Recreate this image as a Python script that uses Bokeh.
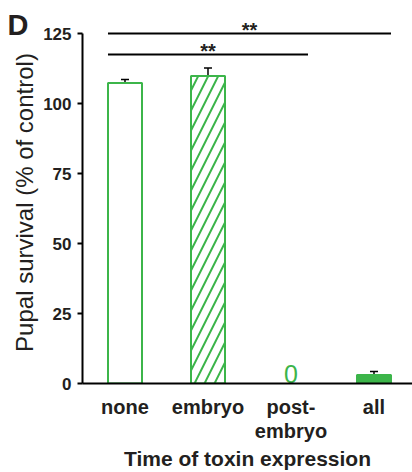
from bokeh.plotting import figure
from bokeh.models import ColumnDataSource, FixedTicker, LinearAxis, Whisker, TeeHead, Range1d
from bokeh.core.properties import value
from bokeh.embed import file_html
from bokeh.resources import INLINE

# ---- data ----
categories = ["none", "embryo", "post-\nembryo", "all"]
survival = [107.3, 109.8, 0.0, 3.0]
sem = [1.3, 2.9, 0.0, 1.3]
y_ticks = [0, 25, 50, 75, 100, 125]
sig_pairs = [(0, 3), (0, 2)]
sig_levels = [125, 117.5]
sig_text = ["**", "**"]
panel_letter = "D"

# ---- style ----
GREEN = "#3cb54a"
INK = "#231f20"
FONT = "Liberation Sans"
BAR_W = 0.41
LETTER_POS = 128
fill_styles = ["white", "white", "white", GREEN]
hatch_styles = [" ", "/", " ", " "]

xs = list(range(len(categories)))

p = figure(width=412, height=472, output_backend="svg", toolbar_location=None,
           x_range=Range1d(-0.512, 3.464), y_range=Range1d(0, 129.3),
           min_border_left=82, min_border_right=0, min_border_top=21,
           min_border_bottom=87)
p.outline_line_color = None
p.grid.grid_line_color = None
p.background_fill_color = "white"

# bars (only non-zero values are drawn)
idx = [i for i in xs if survival[i] > 0]
bars = ColumnDataSource(dict(
    x=[xs[i] for i in idx],
    top=[survival[i] for i in idx],
    fill=[fill_styles[i] for i in idx],
    hatch=[hatch_styles[i] for i in idx],
))
p.vbar(x="x", top="top", bottom=0, width=BAR_W, source=bars,
       fill_color="fill", line_color=GREEN, line_width=2,
       hatch_pattern="hatch", hatch_color=GREEN, hatch_scale=20, hatch_weight=2)

# zero labels
zidx = [i for i in xs if survival[i] == 0]
zsrc = ColumnDataSource(dict(x=[xs[i] for i in zidx],
                             y=[survival[i] + 3.4 for i in zidx],
                             t=["0" for i in zidx]))
p.text(x="x", y="y", text="t", source=zsrc, text_align="center",
       text_baseline="alphabetic", text_color=GREEN,
       text_font=value(FONT), text_font_size="25px")

# error bars (upper only)
eidx = [i for i in xs if sem[i] > 0]
esrc = ColumnDataSource(dict(base=[xs[i] for i in eidx],
                             lower=[survival[i] for i in eidx],
                             upper=[survival[i] + sem[i] for i in eidx]))
p.add_layout(Whisker(source=esrc, base="base", lower="lower", upper="upper",
                     dimension="height", line_color="black", line_width=1.5,
                     upper_head=TeeHead(size=8, line_color="black", line_width=1.5),
                     lower_head=None))

# significance bars
p.segment(x0=[a - BAR_W / 2 for a, b in sig_pairs],
          x1=[b + BAR_W / 2 for a, b in sig_pairs],
          y0=sig_levels, y1=sig_levels, line_color="black", line_width=2)
ssrc = ColumnDataSource(dict(x=[(a + b) / 2 for a, b in sig_pairs],
                             y=[lvl + 1.2 for lvl in sig_levels],
                             t=sig_text))
p.text(x="x", y="y", text="t", source=ssrc, text_align="center",
       text_baseline="alphabetic", text_color=INK, text_font=value(FONT),
       text_font_size="20px", text_font_style="bold")

# axes
ya = p.yaxis[0]
ya.ticker = FixedTicker(ticks=y_ticks)
ya.bounds = (0, 125)
ya.axis_line_width = 2
ya.major_tick_line_width = 2
ya.major_tick_out = 5
ya.major_tick_in = 0
ya.minor_tick_line_color = None
ya.major_label_text_font = FONT
ya.major_label_text_font_style = "bold"
ya.major_label_text_font_size = "17px"
ya.major_label_text_color = INK
ya.major_label_standoff = 6
ya.axis_label = "Pupal survival (% of control)"
ya.axis_label_text_font = FONT
ya.axis_label_text_font_style = "normal"
ya.axis_label_text_font_size = "24px"
ya.axis_label_text_color = INK
ya.axis_label_standoff = 2

# panel letter, carried by a bare outer axis at the top-left
letter_axis = LinearAxis(ticker=FixedTicker(ticks=[LETTER_POS]),
                         major_label_overrides={LETTER_POS: panel_letter},
                         axis_line_color=None, major_tick_line_color=None,
                         minor_tick_line_color=None, major_tick_out=0,
                         major_tick_in=0, major_label_standoff=-20,
                         major_label_text_font=FONT,
                         major_label_text_font_size="29px",
                         major_label_text_font_style="bold",
                         major_label_text_color=INK)
p.add_layout(letter_axis, "left")

xa = p.xaxis[0]
xa.ticker = FixedTicker(ticks=xs)
xa.major_label_overrides = {i: c for i, c in zip(xs, categories)}
xa.axis_line_width = 2
xa.major_tick_line_color = None
xa.major_tick_out = 0
xa.major_tick_in = 0
xa.minor_tick_line_color = None
xa.major_label_text_font = FONT
xa.major_label_text_font_style = "bold"
xa.major_label_text_font_size = "20px"
xa.major_label_text_line_height = 1.1
xa.major_label_text_color = INK
xa.major_label_standoff = 12
xa.axis_label = "Time of toxin expression"
xa.axis_label_text_font = FONT
xa.axis_label_text_font_style = "bold"
xa.axis_label_text_font_size = "21px"
xa.axis_label_text_color = INK
xa.axis_label_standoff = 2

open("out.html", "w").write(file_html(p, INLINE))
